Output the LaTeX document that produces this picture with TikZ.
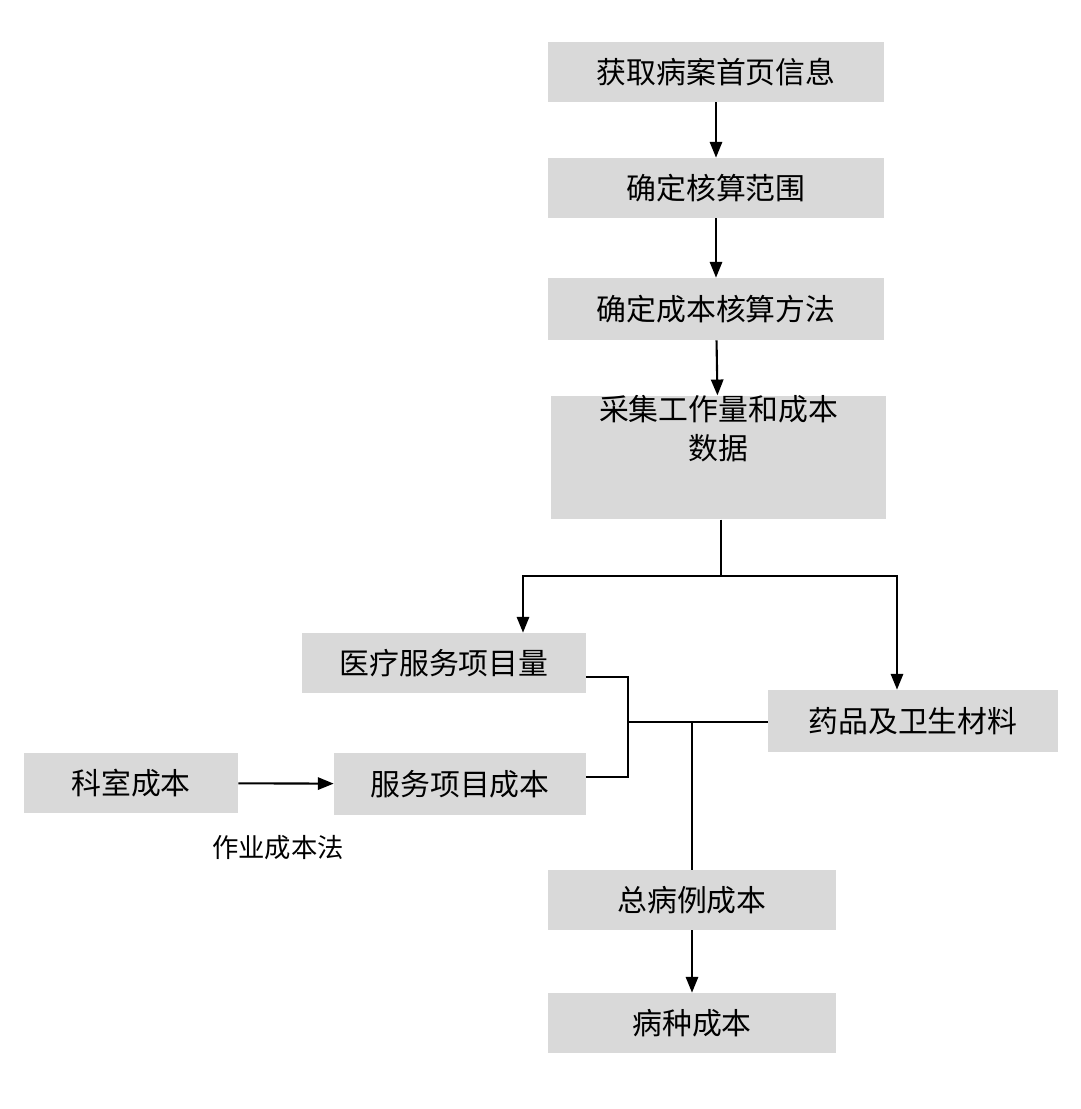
\documentclass[tikz,border=0pt]{standalone}
\usepackage{fontspec}
\setmainfont{Noto Sans CJK SC}
\usetikzlibrary{positioning, calc, arrows.meta}
\definecolor{boxgray}{HTML}{D9D9D9}

\begin{document}
\begin{tikzpicture}[x=0.02cm, y=-0.02cm, >={Triangle[length=9pt,width=7pt]},
    every step/.style={fill=boxgray, draw=none, align=center, inner sep=0pt,
      font=\fontsize{17pt}{22pt}\selectfont},
    link/.style={line width=1.2pt}]
  \useasboundingbox (0,0) rectangle (1080,1109);

  % Main chain
  \node [every step, minimum width=6.72cm, minimum height=1.2cm] (info) at (716,72) {获取病案首页信息};
  \node [every step, minimum width=6.72cm, minimum height=1.2cm] (scope) at (716,188) {确定核算范围};
  \node [every step, minimum width=6.72cm, minimum height=1.24cm] (method) at (716,309) {确定成本核算方法};
  \node [every step, minimum width=6.7cm, minimum height=2.42cm] (collect) at (718.5,457.5) {采集工作量和成本\\数据\\[12pt]};

  % Middle row
  \node [every step, minimum width=5.68cm, minimum height=1.2cm] (volume) at (444,663) {医疗服务项目量};
  \node [every step, minimum width=5.8cm, minimum height=1.24cm] (drug) at (913,721) {药品及卫生材料};
  \node [every step, minimum width=4.28cm, minimum height=1.2cm] (dept) at (131,783) {科室成本};
  \node [every step, minimum width=5.04cm, minimum height=1.24cm] (item) at (460,784) {服务项目成本};
  \node [font=\fontsize{15pt}{18pt}\selectfont] (abc) at (278,848) {作业成本法};

  % Bottom
  \node [every step, minimum width=5.76cm, minimum height=1.2cm] (total) at (692,900) {总病例成本};
  \node [every step, minimum width=5.76cm, minimum height=1.2cm] (disease) at (692,1023) {病种成本};

  % Helper points
  \coordinate (split) at (721,576);
  \coordinate (bracket) at (628,722);
  \coordinate (merge) at (692,722);

  % Draw the connecting arrows
  \foreach \a/\b in {info/scope, scope/method, method/collect, total/disease}
    \draw [link, ->] (\a) -- (\b);
  \draw [link] (collect.south -| split) -- (split);
  \draw [link, ->] (split) -| (volume.north -| 523,0);
  \draw [link, ->] (split) -| (drug.north -| 897,0);
  \draw [link, ->] (dept) -- (item);
  \draw [link] (volume.east |- 0,677) -| (bracket) |- (item.east |- 0,777);
  \draw [link] (bracket) -- (drug.west |- bracket);
  \draw [link] (merge) -- (total.north);
\end{tikzpicture}
\end{document}
